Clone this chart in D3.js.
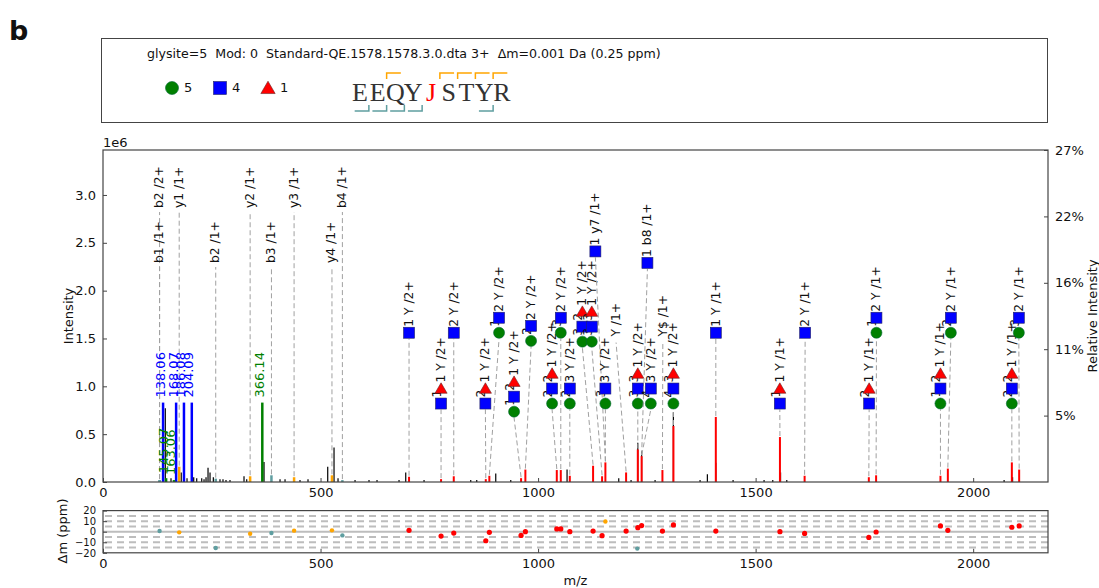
<!DOCTYPE html>
<html><head><meta charset="utf-8">
<script src="https://cdn.jsdelivr.net/npm/d3@7"></script>
<style>
body{margin:0;background:#fff}
text{font-family:"DejaVu Sans",sans-serif;fill:#111}
</style>
</head><body><svg id="c" width="1099" height="588"></svg>
<script>
// ---- header ----
const panelTag = "b";
const title = "glysite=5  Mod: 0  Standard-QE.1578.1578.3.0.dta 3+  \u0394m=0.001 Da (0.25 ppm)";
const legendShapes = ["circle", "square", "triangle"];
const legendCounts = [5, 4, 1];
const sequence = ["E","E","Q","Y","J","S","T","Y","R"];
const glycoResidue = 4;            // index of the glycosylated residue
const bCleavages = [2, 5, 6, 7, 8]; // cleavage after n residues (b ions)
const yCleavages = [1, 2, 3, 4, 8];

// ---- axes ----
const xTicks = [0, 500, 1000, 1500, 2000];
const yTicks = [0, 0.5, 1.0, 1.5, 2.0, 2.5, 3.0];
const relTickLabels = ["5%", "11%", "16%", "22%", "27%"];
const ppmTicks = [20, 10, 0, -10, -20];
const ppmGrid = [15, 10, 5, -5, -10, -15];

// ---- unmatched peaks (m/z, intensity in 1e6) ----
const rawMz = [143.2,156.3,179.8,193.1,208.5,215.4,226.9,232.2,236.8,241.4,246.0,253.6,268.9,275.8,282.7,291.9,324.1,330.3,370.1,406.9,418.4,452.8,471.2,516.5,531.0,540.2,579.3,611.4,629.8,680.4,695.8,737.9,845.2,859.0,902.7,937.2,1066.6,1185.4,1213.7,1229.1,1237.9,1268.9,1311.0,1372.3,1389.1,1408.4,1448.2,1519.4,1539.4,1557.3,1571.6,2071.1,2090.6];
const rawInt = [0.77,0.04,0.10,0.04,0.05,0.04,0.04,0.03,0.05,0.15,0.10,0.05,0.03,0.03,0.02,0.02,0.06,0.03,0.21,0.03,0.03,0.02,0.03,0.16,0.36,0.04,0.02,0.02,0.02,0.02,0.10,0.02,0.02,0.02,0.09,0.02,0.13,0.04,0.02,0.41,0.32,0.02,0.73,0.02,0.08,0.20,0.02,0.02,0.02,0.10,0.02,0.02,0.05];

// ---- glycopeptide Y-ion peaks ----
const glyMz = [703.4,777.0,806.2,879.8,888.0,960.9,970.8,1043.0,1052.2,1072.9,1126.4,1147.1,1154.7,1202.3,1229.2,1238.0,1285.8,1311.1,1408.5,1555.9,1612.6,1760.2,1776.9,1924.8,1941.8,2088.9,2105.7];
const glyInt = [0.055,0.03,0.06,0.03,0.065,0.04,0.13,0.125,0.125,0.065,0.17,0.06,0.205,0.10,0.34,0.27,0.125,0.585,0.68,0.47,0.065,0.05,0.07,0.065,0.14,0.205,0.13];

// ---- oxonium ions ----
const oxoLabels = ["138.06","168.07","186.08","204.09","366.14","145.07","163.06"];
const oxoMz = [138.06,168.07,186.08,204.09,366.14,145.07,163.06];
const oxoInt = [0.83,0.83,0.83,0.83,0.83,0.04,0.02];
const oxoKind = ["HexNAc","HexNAc","HexNAc","HexNAc","Hex","Hex","Hex"];

// ---- peptide b / y ions ----
const pepLabels = ["b1 /1+","b2 /2+","y1 /1+","b2 /1+","y2 /1+","b3 /1+","y3 /1+","y4 /1+","b4 /1+"];
const pepMz = [130.05,130.05,175.12,259.09,338.18,387.14,439.2,526.24,550.2];
const pepInt = [0.02,0.02,0.16,0.035,0.06,0.07,0.05,0.07,0.02];
const pepRow = [0,1,1,0,1,0,1,0,1];

// ---- Y-ion annotations: label m/z, matched peak m/z, glycan counts, ion, stack level (1e6) ----
const annMz   = [703.4,777.0,806.2,878.9,910.3,944.8,983.9,1032.2,1052.2,1072.9,1101.8,1123.4,1131.7,1154.7,1179.3,1229.2,1251.3,1259.1,1286.7,1311.0,1408.5,1555.6,1613.8,1760.9,1777.7,1924.8,1948.7,2088.9,2105.0];
const annPeak = [703.4,777.0,806.2,879.8,888.0,960.9,970.8,1043.0,1052.2,1072.9,1126.4,1147.1,1154.7,1154.7,1202.3,1229.2,1238.0,1238.0,1285.8,1311.1,1408.5,1555.9,1612.6,1760.2,1776.9,1924.8,1941.8,2088.9,2105.7];
const annHex  = [0,0,0,0,1,1,2,2,3,2,3,3,0,3,0,3,0,4,0,4,0,0,0,0,1,1,2,2,3];
const annHexNAc=[1,1,2,2,2,2,2,2,2,3,2,3,1,3,0,3,1,3,0,3,1,1,2,2,2,2,2,2,2];
const annFuc  = [0,1,0,1,0,1,0,1,0,0,1,1,0,0,0,1,0,0,0,1,0,1,0,1,0,1,0,1,0];
const annIon  = ["Y /2+","Y /2+","Y /2+","Y /2+","Y /2+","Y /2+","Y /2+","Y /2+","Y /2+","Y /2+","Y /2+","Y /2+","y7 /1+","Y /2+","Y /1+","Y /2+","b8 /1+","Y /2+","Y$ /1+","Y /2+","Y /1+","Y /1+","Y /1+","Y /1+","Y /1+","Y /1+","Y /1+","Y /1+","Y /1+"];
const annLevel= [1.56,0.82,1.56,0.82,1.56,0.735,1.475,0.82,1.56,0.82,1.467,1.467,2.41,0.82,1.52,0.82,2.29,0.82,1.52,0.82,1.56,0.82,1.56,0.82,1.56,0.82,1.56,0.82,1.56];

// ---- mass deviation (ppm) ----
const devMz  = [130.05,175.12,259.09,338.18,387.14,439.2,526.24,550.2,703.4,777.0,806.2,879.8,888.0,960.9,970.8,1043.0,1052.2,1072.9,1154.7,1202.3,1229.2,1238.0,1285.8,1311.1,1408.5,1555.9,1612.6,1760.2,1776.9,1924.8,1941.8,2088.9,2105.7,1126.4,1147.1,1228.0];
const devPpm = [0.7,-0.6,-15.5,-1.9,-1.3,1.0,1.3,-3.5,1.3,-4.1,-1.3,-8.6,-0.6,-3.5,0,2.6,2.6,0,9.6,0.6,3.8,5.8,0.6,6.4,0.6,0,-1.6,-5.4,-0.3,5.5,1.3,4.2,5.5,0.6,-3.8,-16];
const devKind= ["b","y","b","y","b","y","y","b","g","g","g","g","g","g","g","g","g","g","y","g","g","g","g","g","g","g","g","g","g","g","g","g","g","g","g","b"];

const colors = {raw:"#000", gly:"#ff0000", HexNAc:"#0000ff", Hex:"#008000", y:"#ffa500", b:"#5f9ea0", g:"#ff0000", grid:"#bdbdbd", guide:"#a0a0a0", frame:"#444"};

const svg = d3.select("#c");

// panel tag
svg.append("text").attr("x", 9).attr("y", 40).attr("font-size", 27).attr("font-weight", "bold").text(panelTag);

// ---- header box ----
svg.append("rect").attr("x", 101.5).attr("y", 38.5).attr("width", 946).attr("height", 84)
  .attr("fill", "none").attr("stroke", colors.frame).attr("stroke-width", 1);
svg.append("text").attr("x", 147).attr("y", 58).attr("font-size", 12.6).style("white-space", "pre").text(title);

function glyph(g, shape, cx, cy, s) {
  if (shape === "circle") {
    g.append("circle").attr("cx", cx).attr("cy", cy).attr("r", s * 0.5)
      .attr("fill", colors.Hex).attr("stroke", "#063").attr("stroke-width", 0.6);
  } else if (shape === "square") {
    g.append("rect").attr("x", cx - s * 0.5).attr("y", cy - s * 0.5).attr("width", s).attr("height", s)
      .attr("fill", colors.HexNAc).attr("stroke", "#226").attr("stroke-width", 0.6);
  } else {
    const h = s * 0.95;
    g.append("path").attr("d", `M${cx},${cy - h * 0.55}L${cx + s * 0.55},${cy + h * 0.45}L${cx - s * 0.55},${cy + h * 0.45}Z`)
      .attr("fill", colors.gly).attr("stroke", "#622").attr("stroke-width", 0.6);
  }
}

const legX = d3.scalePoint().domain(legendShapes).range([172, 268]);
legendShapes.forEach((s, i) => {
  glyph(svg, s, legX(s), 88, 13);
  svg.append("text").attr("x", legX(s) + 12).attr("y", 92).attr("font-size", 13).text(legendCounts[i]);
});

// peptide sequence with fragment brackets
const seqX = d3.scaleLinear().domain([0, sequence.length - 1]).range([360, 502]);
const step = seqX(1) - seqX(0);
sequence.forEach((aa, i) => {
  svg.append("text").attr("x", seqX(i)).attr("y", 101).attr("text-anchor", "middle")
    .style("font-family", "'Liberation Serif','DejaVu Serif',serif").attr("font-size", 26)
    .style("fill", i === glycoResidue ? "#ff0000" : "#333").text(aa);
});
bCleavages.forEach(k => {
  const bx = seqX(k - 1) + step / 2;
  svg.append("path").attr("d", `M${bx},79V73H${bx + step * 0.8}`).attr("fill", "none")
    .attr("stroke", colors.y).attr("stroke-width", 1.5);
});
yCleavages.forEach(k => {
  const bx = seqX(k - 1) + step / 2;
  svg.append("path").attr("d", `M${bx},105V111H${bx - step * 0.8}`).attr("fill", "none")
    .attr("stroke", colors.b).attr("stroke-width", 1.5);
});

// ---- spectrum panel ----
const L = 103, R = 1048, T = 150, B = 482;
const x = d3.scaleLinear().domain([0, 2172]).range([L, R]);
const y = d3.scaleLinear().domain([0, 3.47]).range([B, T]);

const plot = svg.append("g");

function vtext(g, px, py, str, color, size) {
  return g.append("text").attr("transform", `translate(${px},${py}) rotate(-90)`)
    .attr("dominant-baseline", "central").attr("font-size", size || 12.3)
    .style("fill", color || "#111").text(str);
}

// b / y ion guide lines and labels
const rowY = [263, 208];
pepMz.forEach((m, i) => {
  const ly = rowY[pepRow[i]];
  plot.append("line").attr("x1", x(m)).attr("x2", x(m)).attr("y1", y(pepInt[i]) - 1).attr("y2", ly + 4)
    .attr("stroke", colors.guide).attr("stroke-width", 1).attr("stroke-dasharray", "5,3");
});
pepMz.forEach((m, i) => {
  vtext(plot, x(m) - 0.5, rowY[pepRow[i]], pepLabels[i]);
});

// raw peaks
plot.selectAll(".raw").data(rawMz).join("line").attr("class", "raw")
  .attr("x1", d => x(d)).attr("x2", d => x(d)).attr("y1", B)
  .attr("y2", (d, i) => y(rawInt[i])).attr("stroke", colors.raw).attr("stroke-width", 1.2);

// peptide fragment peaks
plot.selectAll(".pep").data(pepMz).join("line").attr("class", "pep")
  .attr("x1", d => x(d)).attr("x2", d => x(d)).attr("y1", B)
  .attr("y2", (d, i) => y(pepInt[i]))
  .attr("stroke", (d, i) => pepLabels[i][0] === "b" ? colors.b : colors.y).attr("stroke-width", 2.5);

// Y-ion peaks
plot.selectAll(".gly").data(glyMz).join("line").attr("class", "gly")
  .attr("x1", d => x(d)).attr("x2", d => x(d)).attr("y1", B)
  .attr("y2", (d, i) => y(glyInt[i])).attr("stroke", colors.gly).attr("stroke-width", 2);

// oxonium peaks and labels
oxoMz.forEach((m, i) => {
  const c = colors[oxoKind[i]];
  plot.append("line").attr("x1", x(m)).attr("x2", x(m)).attr("y1", B).attr("y2", y(oxoInt[i]))
    .attr("stroke", c).attr("stroke-width", 2.5);
  vtext(plot, x(m) - 3, y(oxoInt[i]) - 5, oxoLabels[i], c, 13);
});

// Y-ion annotations with glycan symbols
const symStep = 15;
annMz.forEach((m, i) => {
  const lx = x(m), base = y(annLevel[i]);
  const marks = [];
  if (annHex[i]) marks.push(["circle", annHex[i]]);
  if (annHexNAc[i]) marks.push(["square", annHexNAc[i]]);
  if (annFuc[i]) marks.push(["triangle", annFuc[i]]);
  plot.append("line").attr("x1", x(annPeak[i])).attr("x2", lx)
    .attr("y1", y(glyInt[glyMz.indexOf(annPeak[i])] || 0) - 1).attr("y2", base + 6)
    .attr("stroke", colors.guide).attr("stroke-width", 1).attr("stroke-dasharray", "5,3");
  if (!marks.length) {
    vtext(plot, lx, base, annIon[i]);
    return;
  }
  marks.forEach((mk, j) => {
    const my = base - j * symStep;
    const last = j === marks.length - 1;
    vtext(plot, lx - (last ? 0 : 4), my - 6, last ? `${mk[1]} ${annIon[i]}` : `${mk[1]}`);
  });
  marks.forEach((mk, j) => glyph(plot, mk[0], lx, base - j * symStep, 11));
});

// frame and axes
plot.append("rect").attr("x", L).attr("y", T).attr("width", R - L).attr("height", B - T)
  .attr("fill", "none").attr("stroke", colors.frame).attr("stroke-width", 1.2);

const axL = svg.append("g").attr("transform", `translate(${L},0)`)
  .call(d3.axisLeft(y).tickValues(yTicks).tickFormat(d3.format(".1f")).tickSizeInner(-4).tickSizeOuter(0).tickPadding(7));
const relVals = relTickLabels.map((_, k) => 3.47 * (k + 1) / 5);
const axR = svg.append("g").attr("transform", `translate(${R},0)`)
  .call(d3.axisRight(y).tickValues(relVals).tickFormat((d, k) => relTickLabels[k]).tickSizeInner(-4).tickSizeOuter(0).tickPadding(7));
const axB = svg.append("g").attr("transform", `translate(0,${B})`)
  .call(d3.axisBottom(x).tickValues(xTicks).tickFormat(d3.format("d")).tickSizeInner(-4).tickSizeOuter(0).tickPadding(6));
[axL, axR, axB].forEach(a => {
  a.select(".domain").remove();
  a.selectAll("text").attr("font-size", 13).style("font-family", "'DejaVu Sans',sans-serif").style("fill", "#111");
  a.selectAll("line").attr("stroke", colors.frame);
});

svg.append("text").attr("x", 103).attr("y", 147).attr("font-size", 13).text("1e6");
vtext(svg, 68, 316, "Intensity", "#111", 13).attr("text-anchor", "middle");
vtext(svg, 1092, 316, "Relative Intensity", "#111", 13).attr("text-anchor", "middle");

// ---- mass deviation panel ----
const T2 = 510.6, B2 = 552.8;
const yd = d3.scaleLinear().domain([-20, 20]).range([B2, T2]);
const dev = svg.append("g");
dev.selectAll(".grid").data(ppmGrid).join("line").attr("class", "grid")
  .attr("x1", L + 2).attr("x2", R).attr("y1", d => yd(d)).attr("y2", d => yd(d))
  .attr("stroke", colors.grid).attr("stroke-width", 2).attr("stroke-dasharray", "7,5");
dev.append("line").attr("x1", L).attr("x2", R).attr("y1", yd(0)).attr("y2", yd(0))
  .attr("stroke", colors.grid).attr("stroke-width", 2);
dev.selectAll(".pt").data(devMz).join("circle").attr("class", "pt")
  .attr("cx", d => x(d)).attr("cy", (d, i) => yd(devPpm[i]))
  .attr("r", (d, i) => devKind[i] === "g" ? 2.6 : 2.2)
  .attr("fill", (d, i) => colors[devKind[i]]);
dev.append("rect").attr("x", L).attr("y", T2).attr("width", R - L).attr("height", B2 - T2)
  .attr("fill", "none").attr("stroke", colors.frame).attr("stroke-width", 1.2);

const axL2 = svg.append("g").attr("transform", `translate(${L},0)`)
  .call(d3.axisLeft(yd).tickValues(ppmTicks).tickFormat(d => d < 0 ? "\u2212" + Math.abs(d) : d).tickSizeInner(-4).tickSizeOuter(0).tickPadding(7));
const axB2 = svg.append("g").attr("transform", `translate(0,${B2})`)
  .call(d3.axisBottom(x).tickValues(xTicks).tickFormat(d3.format("d")).tickSizeInner(-4).tickSizeOuter(0).tickPadding(6));
[axL2, axB2].forEach(a => {
  a.select(".domain").remove();
  a.selectAll("text").attr("font-size", 13).style("font-family", "'DejaVu Sans',sans-serif").style("fill", "#111");
  a.selectAll("line").attr("stroke", colors.frame);
});
axL2.selectAll("text").attr("font-size", 10);
vtext(svg, 62, 531, "\u0394m (ppm)", "#111", 13).attr("text-anchor", "middle");
svg.append("text").attr("x", (L + R) / 2).attr("y", 585).attr("text-anchor", "middle").attr("font-size", 13).text("m/z");
</script>
</body></html>
